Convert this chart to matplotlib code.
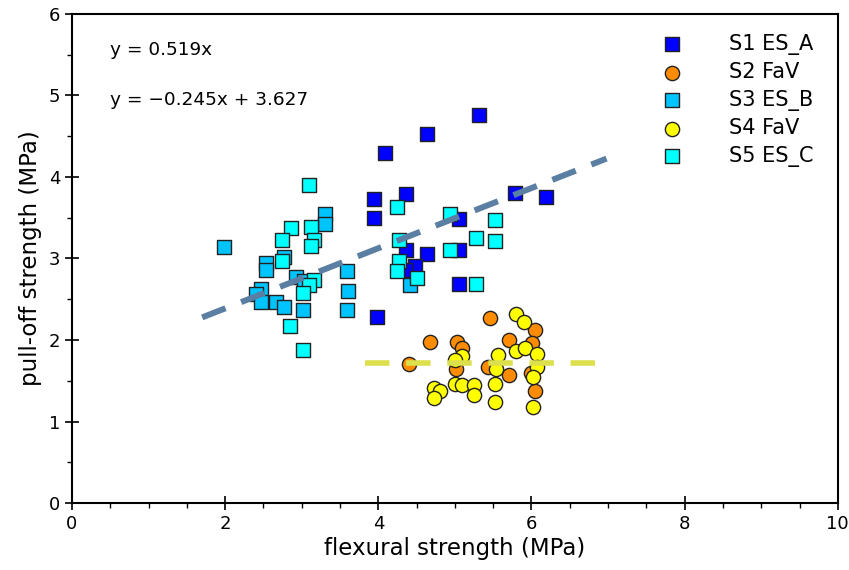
import matplotlib
matplotlib.use("Agg")
import matplotlib.pyplot as plt
from matplotlib.ticker import MultipleLocator

# flexural strength (x) vs pull-off strength (y), MPa
s1_x = [5.32, 4.64, 4.09, 3.95, 4.36, 3.95, 5.79, 6.19, 5.05, 4.36, 4.64, 5.06,
        4.48, 4.35, 5.06, 3.98]
s1_y = [4.76, 4.53, 4.29, 3.73, 3.79, 3.50, 3.80, 3.75, 3.48, 3.11, 3.05, 3.11,
        2.91, 2.86, 2.69, 2.28]

s2_x = [5.46, 4.68, 5.03, 5.09, 4.40, 5.71, 6.05, 6.01, 5.02, 5.43, 5.71, 6.05, 5.99]
s2_y = [2.27, 1.97, 1.97, 1.90, 1.71, 2.00, 2.12, 1.96, 1.65, 1.67, 1.57, 1.37, 1.59]

s3_x = [1.98, 3.31, 3.31, 2.53, 2.53, 2.77, 2.92, 3.03, 3.59, 3.60, 3.59, 2.47,
        2.40, 2.47, 2.67, 2.77, 3.02, 4.41]
s3_y = [3.14, 3.55, 3.42, 2.95, 2.86, 3.02, 2.77, 2.72, 2.85, 2.60, 2.37, 2.63,
        2.56, 2.47, 2.47, 2.40, 2.37, 2.68]

s4_x = [5.80, 5.90, 5.80, 5.91, 6.07, 6.07, 6.02, 6.02, 5.56, 5.54, 5.53, 5.53,
        5.09, 5.00, 5.00, 5.09, 5.25, 5.25, 4.73, 4.80, 4.73]
s4_y = [2.32, 2.22, 1.87, 1.90, 1.83, 1.67, 1.55, 1.18, 1.82, 1.64, 1.46, 1.24,
        1.80, 1.75, 1.46, 1.45, 1.45, 1.33, 1.41, 1.37, 1.29]

s5_x = [3.09, 2.86, 3.12, 2.74, 3.16, 3.12, 2.74, 3.16, 3.09, 3.02, 2.85, 3.02,
        4.24, 4.94, 5.53, 4.27, 5.28, 5.53, 4.94, 4.27, 4.24, 4.51, 5.28]
s5_y = [3.90, 3.37, 3.39, 3.23, 3.23, 3.15, 2.97, 2.74, 2.68, 2.58, 2.17, 1.88,
        3.63, 3.55, 3.47, 3.23, 3.25, 3.21, 3.10, 2.97, 2.85, 2.76, 2.69]

# trend lines as drawn in the figure
es_fit_x = [1.70, 6.98]
es_fit_slope = 0.369
es_fit_icpt = 1.65
fav_fit_x = [3.83, 6.87]
fav_fit_level = 1.72

eq_text = ["y = 0.519x", "y = \u22120.245x + 3.627"]

series = [
    ("S1 ES_A", s1_x, s1_y, "s", "#0000ff"),
    ("S2 FaV", s2_x, s2_y, "o", "#ff8c00"),
    ("S3 ES_B", s3_x, s3_y, "s", "#00c4ff"),
    ("S4 FaV", s4_x, s4_y, "o", "#ffff00"),
    ("S5 ES_C", s5_x, s5_y, "s", "#00ffff"),
]

fig = plt.figure(figsize=(8.49, 5.70), dpi=100)
ax = fig.add_axes([0.0848, 0.1175, 0.902, 0.858])

for label, xs, ys, mk, col in series:
    size = 88 if mk == "s" else 105
    ax.scatter(xs, ys, s=size, marker=mk, c=col, edgecolors="#222222",
               linewidths=1.0, label=label, zorder=3)

ax.plot(es_fit_x, [es_fit_slope * x + es_fit_icpt for x in es_fit_x],
        color="#5a7fa2", lw=4.3, dashes=(4.2, 2.8), zorder=4)
ax.plot(fav_fit_x, [fav_fit_level] * 2, color="#dbe04c", lw=4.0,
        dashes=(4.4, 3.0), zorder=4)

ax.text(0.50, 5.56, eq_text[0], fontsize=13.3, va="center")
ax.text(0.50, 4.94, eq_text[1], fontsize=13.3, va="center")

ax.set_xlim(0, 10)
ax.set_ylim(0, 6)
ax.xaxis.set_major_locator(MultipleLocator(2))
ax.xaxis.set_minor_locator(MultipleLocator(0.5))
ax.yaxis.set_major_locator(MultipleLocator(1))
ax.yaxis.set_minor_locator(MultipleLocator(0.5))
ax.tick_params(which="major", direction="inout", length=10, width=1.2,
               labelsize=13, top=False, right=False)
ax.tick_params(which="minor", direction="out", length=3.5, width=1.0,
               top=False, right=False)
for sp in ax.spines.values():
    sp.set_linewidth(1.5)

ax.set_xlabel("flexural strength (MPa)", fontsize=16.5, labelpad=3)
ax.set_ylabel("pull-off strength (MPa)", fontsize=16.5, labelpad=5)

ax.legend(loc="upper left", bbox_to_anchor=(0.730, 1.0), frameon=False,
          fontsize=15, handletextpad=1.74, labelspacing=0.36, borderaxespad=0.55,
          scatterpoints=1)

fig.savefig("out.png", dpi=100)
